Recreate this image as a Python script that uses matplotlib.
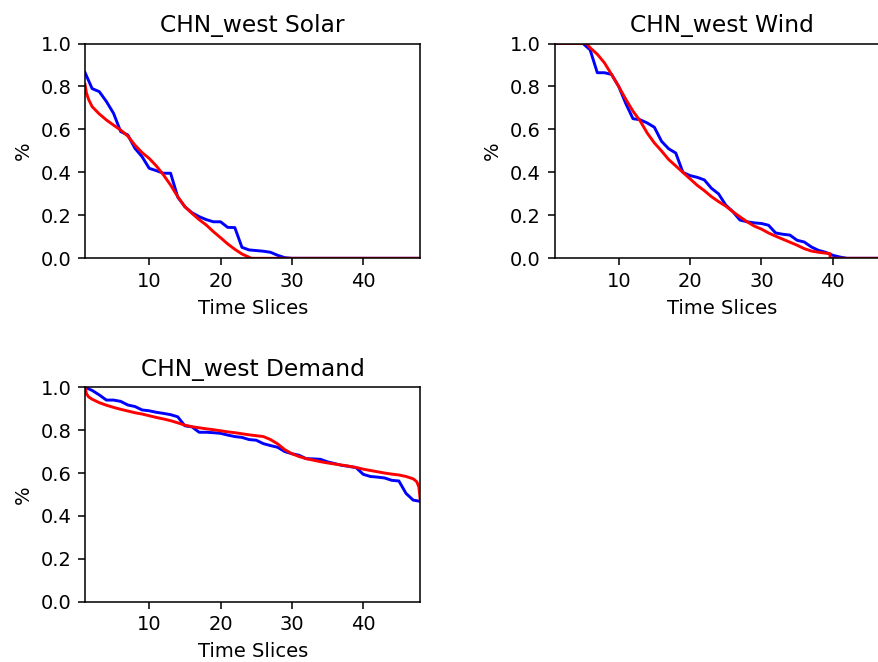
import matplotlib
matplotlib.use("Agg")
import matplotlib.pyplot as plt

# ---------------- data ----------------
time_slices = list(range(1, 49))

solar_actual = [0.865, 0.79, 0.776, 0.73, 0.675, 0.59, 0.574, 0.512, 0.473, 0.419,
                0.408, 0.396, 0.396, 0.285, 0.24, 0.212, 0.194, 0.18, 0.17, 0.17,
                0.144, 0.143, 0.051, 0.039, 0.036, 0.033, 0.028, 0.014, 0.003, 0.0,
                0.0, 0.0, 0.0, 0.0, 0.0, 0.0, 0.0, 0.0, 0.0, 0.0,
                0.0, 0.0, 0.0, 0.0, 0.0, 0.0, 0.0, 0.0]
solar_fit_x = [1, 1.2, 1.5, 2, 3, 4, 5, 6, 7, 8, 9, 10, 11, 12, 13, 14, 15, 16,
               17, 18, 19, 20, 21, 22, 23, 24, 24.3, 30, 40, 48]
solar_fit = [0.81, 0.77, 0.74, 0.706, 0.672, 0.644, 0.62, 0.597, 0.569, 0.527,
             0.492, 0.465, 0.43, 0.388, 0.341, 0.287, 0.24, 0.209, 0.18, 0.155,
             0.124, 0.096, 0.067, 0.042, 0.02, 0.005, 0.0, 0.0, 0.0, 0.0]

wind_actual = [1.0, 1.0, 1.0, 1.0, 1.0, 0.97, 0.864, 0.864, 0.856, 0.80,
               0.72, 0.65, 0.645, 0.63, 0.61, 0.545, 0.51, 0.49, 0.40, 0.385,
               0.377, 0.365, 0.326, 0.30, 0.248, 0.217, 0.178, 0.17, 0.165, 0.162,
               0.154, 0.118, 0.112, 0.108, 0.084, 0.076, 0.053, 0.037, 0.028, 0.014,
               0.006, 0.0, 0.0, 0.0, 0.0, 0.0, 0.0, 0.0]
wind_fit_x = [1, 5, 5.5, 6, 7, 8, 9, 10, 11, 12, 13, 14, 15, 16, 17, 18, 19, 20,
              21, 22, 23, 24, 25, 26, 27, 28, 29, 30, 31, 32, 33, 34, 35, 36,
              37, 38, 39, 39.6, 39.65, 48]
wind_fit = [1.0, 1.0, 1.0, 0.98, 0.95, 0.91, 0.856, 0.80, 0.74, 0.685,
            0.64, 0.583, 0.537, 0.50, 0.46, 0.43, 0.40, 0.37, 0.34, 0.315,
            0.287, 0.264, 0.243, 0.217, 0.193, 0.17, 0.15, 0.136, 0.118, 0.103,
            0.089, 0.075, 0.061, 0.045, 0.034, 0.028, 0.024, 0.022, 0.0, 0.0]

demand_actual = [1.0, 0.985, 0.964, 0.94, 0.94, 0.934, 0.917, 0.91, 0.894, 0.89,
                 0.883, 0.878, 0.872, 0.862, 0.82, 0.815, 0.79, 0.79, 0.788, 0.785,
                 0.777, 0.77, 0.766, 0.756, 0.753, 0.737, 0.728, 0.72, 0.70, 0.69,
                 0.683, 0.667, 0.666, 0.664, 0.652, 0.644, 0.636, 0.631, 0.625, 0.594,
                 0.584, 0.581, 0.577, 0.566, 0.563, 0.505, 0.474, 0.468]
demand_fit_x = [1, 1.2, 1.5, 2, 3, 4, 5, 6, 7, 8, 9, 10, 11, 12, 13, 14, 15, 16,
                17, 18, 19, 20, 21, 22, 23, 24, 25, 26, 27, 28, 29, 30, 31, 32,
                33, 34, 35, 36, 37, 38, 39, 40, 41, 42, 43, 44, 45, 46, 47, 47.5,
                47.8, 48]
demand_fit = [1.0, 0.97, 0.955, 0.944, 0.928, 0.916, 0.906, 0.897, 0.889, 0.881,
              0.875, 0.867, 0.859, 0.852, 0.844, 0.834, 0.823, 0.816, 0.811, 0.806,
              0.802, 0.797, 0.792, 0.788, 0.783, 0.778, 0.774, 0.77, 0.756, 0.736,
              0.709, 0.690, 0.677, 0.667, 0.660, 0.653, 0.647, 0.642, 0.637, 0.632,
              0.626, 0.618, 0.612, 0.606, 0.60, 0.595, 0.591, 0.584, 0.573, 0.56,
              0.535, 0.47]

titles = ["CHN_west Solar", "CHN_west Wind", "CHN_west Demand"]
x_label = "Time Slices"
y_label = "%"

# ---------------- figure ----------------
DPI = 140
W, H = 878, 662
fig = plt.figure(figsize=(W / DPI, H / DPI), dpi=DPI)

def frac(left, top, right, bottom):
    return [left / W, 1 - bottom / H, (right - left) / W, (bottom - top) / H]

positions = [
    frac(85, 43.5, 420.3, 258.3),
    frac(554.5, 43.5, 889.8, 258.3),
    frac(85, 387.2, 420.3, 601.8),
]

panels = [
    (time_slices, solar_actual, solar_fit_x, solar_fit),
    (time_slices, wind_actual, wind_fit_x, wind_fit),
    (time_slices, demand_actual, demand_fit_x, demand_fit),
]

for pos, title, (xa, ya, xf, yf) in zip(positions, titles, panels):
    ax = fig.add_axes(pos)
    ax.plot(xa, ya, color="b")
    ax.plot(xf, yf, color="r")
    ax.set_xlim(1, 48)
    ax.set_ylim(0, 1)
    ax.set_xticks([10, 20, 30, 40])
    ax.set_yticks([0.0, 0.2, 0.4, 0.6, 0.8, 1.0])
    ax.set_title(title)
    ax.set_xlabel(x_label)
    ax.set_ylabel(y_label)

fig.savefig("out.png", dpi=DPI)
